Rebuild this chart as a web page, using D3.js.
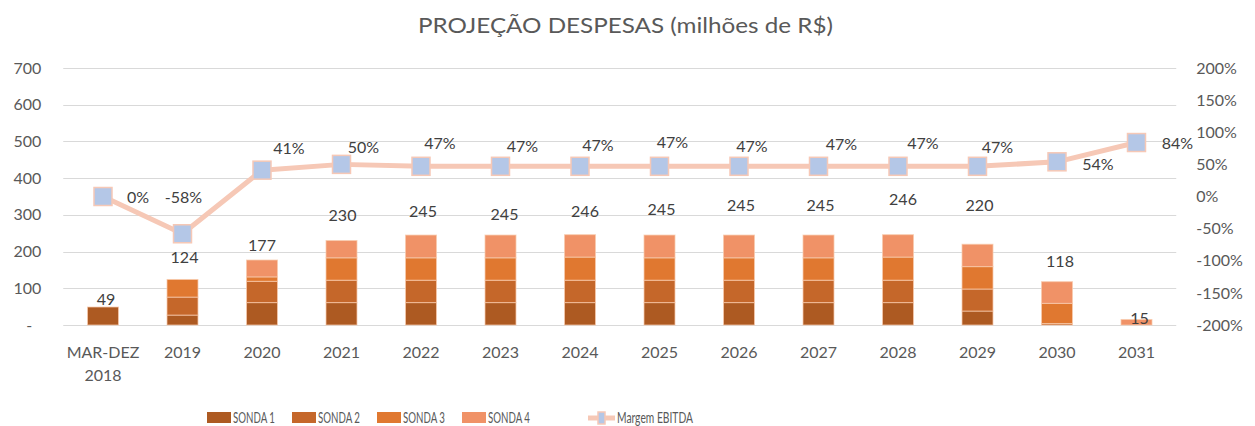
<!DOCTYPE html>
<html>
<head>
<meta charset="utf-8">
<script src="https://cdn.jsdelivr.net/npm/d3@7"></script>
<style>
  body { margin: 0; background: #fff; }
  svg { font-family: Lato, "Open Sans", sans-serif; display: block; }
</style>
</head>
<body>
<svg id="chart" width="1255" height="426"></svg>
<script>
// data
const categories = ['MAR-DEZ 2018', '2019', '2020', '2021', '2022', '2023', '2024',
                    '2025', '2026', '2027', '2028', '2029', '2030', '2031'];
const sonda1 = [49, 27, 61, 61, 61, 61, 61, 61, 61, 61, 61, 38, 0, 0];
const sonda2 = [0, 49, 58, 61, 61, 61, 61, 61, 61, 61, 61, 60, 4, 0];
const sonda3 = [0, 48, 12, 61, 61, 61, 63, 61, 61, 61, 63, 61, 55, 0];
const sonda4 = [0, 0, 46, 47, 62, 62, 61, 62, 62, 62, 61, 61, 59, 15];
const margem = [0, -0.58, 0.41, 0.50, 0.47, 0.47, 0.47, 0.47, 0.47, 0.47, 0.47, 0.47, 0.54, 0.84];
const leftTicks = [0, 100, 200, 300, 400, 500, 600, 700];
const rightTicks = [-2, -1.5, -1, -0.5, 0, 0.5, 1, 1.5, 2];
const seriesNames = ['SONDA 1', 'SONDA 2', 'SONDA 3', 'SONDA 4'];

// label placement (manual, like the original sheet)
const totalShift = [[3, -8], [2, -22], [0, -15], [1, -25], [2, -24], [4, -21], [5, -23],
                    [2, -26], [2, -30], [2, -30], [5, -35], [2, -39], [3, -20], [3, -1]];
const pctShift = [[35, 1], [1, -36], [27, -22], [22, -17], [19, -23], [22, -20], [18, -21],
                  [13, -24], [13, -20], [23, -22], [25, -23], [20, -19], [41, 3], [41, 1]];

const colors = ['#AD5A22', '#C5672A', '#E07830', '#F09267'];
const lineColor = '#F6C8B6';
const markerFill = '#B4C7E7';

const plotLeft = 63.25, plotRight = 1176.25, plotTop = 68, plotBottom = 325;

const svg = d3.select('#chart');

const x = d3.scaleBand()
    .domain(categories)
    .range([plotLeft, plotRight])
    .paddingInner(0.61)
    .paddingOuter(0.305);
const y = d3.scaleLinear().domain([0, 700]).range([plotBottom, plotTop]);
const y2 = d3.scaleLinear().domain([-2, 2]).range([plotBottom, plotTop]);

const pct = v => Math.round(v * 100) + '%';

// title
svg.append('text')
    .attr('x', 625.5)
    .attr('y', 33)
    .attr('text-anchor', 'middle')
    .attr('textLength', 415)
    .attr('lengthAdjust', 'spacingAndGlyphs')
    .style('font-size', '21px')
    .style('fill', '#595959')
    .text('PROJEÇÃO DESPESAS (milhões de R$)');

// gridlines
svg.append('g')
    .selectAll('line')
    .data(leftTicks)
    .join('line')
        .attr('x1', plotLeft)
        .attr('x2', plotRight)
        .attr('y1', d => Math.round(y(d)) + 0.5)
        .attr('y2', d => Math.round(y(d)) + 0.5)
        .style('stroke', '#D9D9D9')
        .style('stroke-width', 1);

// left axis
const gLeft = svg.append('g')
    .attr('transform', `translate(${plotLeft},0)`)
    .call(d3.axisLeft(y).tickValues(leftTicks).tickSize(0).tickPadding(22)
        .tickFormat(d => d === 0 ? '-' : d));
gLeft.select('.domain').remove();
gLeft.selectAll('text')
    .style('font-family', 'Lato, sans-serif')
    .style('font-size', '16px')
    .style('fill', '#595959');
gLeft.selectAll('.tick').filter(d => d === 0).select('text').attr('x', -31);

// right axis
const gRight = svg.append('g')
    .attr('transform', `translate(${plotRight},0)`)
    .call(d3.axisRight(y2).tickValues(rightTicks).tickSize(0).tickPadding(20).tickFormat(pct));
gRight.select('.domain').remove();
gRight.selectAll('text')
    .style('font-family', 'Lato, sans-serif')
    .style('font-size', '16px')
    .style('fill', '#595959');

// x labels
svg.append('g')
    .selectAll('text')
    .data(categories)
    .join('text')
        .attr('x', d => x(d) + x.bandwidth() / 2)
        .attr('y', 358)
        .attr('text-anchor', 'middle')
        .style('font-size', '16px')
        .style('fill', '#595959')
        .each(function(d) {
            const parts = d.split(' ');
            d3.select(this).selectAll('tspan')
                .data(parts)
                .join('tspan')
                    .attr('x', x(d) + x.bandwidth() / 2)
                    .attr('dy', (p, i) => i === 0 ? 0 : 23)
                    .text(p => p);
        });

// stacked bars
const rows = categories.map((c, i) => ({
    cat: c,
    'SONDA 1': sonda1[i],
    'SONDA 2': sonda2[i],
    'SONDA 3': sonda3[i],
    'SONDA 4': sonda4[i]
}));
const stacked = d3.stack().keys(seriesNames)(rows);

svg.append('g')
    .selectAll('g')
    .data(stacked)
    .join('g')
        .style('fill', (d, i) => colors[i])
    .selectAll('rect')
    .data(d => d.filter(s => s[1] - s[0] > 0))
    .join('rect')
        .attr('x', d => x(d.data.cat))
        .attr('width', x.bandwidth())
        .attr('y', d => y(d[1]))
        .attr('height', d => y(d[0]) - y(d[1]))
        .style('stroke', '#F8CBAD')
        .style('stroke-opacity', 0.75)
        .style('stroke-width', 1);

// totals
const totals = rows.map(r => seriesNames.reduce((a, k) => a + r[k], 0));
svg.append('g')
    .selectAll('text')
    .data(totals)
    .join('text')
        .attr('x', (d, i) => x(categories[i]) + x.bandwidth() / 2 + totalShift[i][0])
        .attr('y', (d, i) => y(d) + totalShift[i][1])
        .attr('dy', '0.35em')
        .attr('text-anchor', 'middle')
        .style('font-size', '16px')
        .style('fill', '#404040')
        .text(d => d);

// margem line
const line = d3.line()
    .x((d, i) => x(categories[i]) + x.bandwidth() / 2)
    .y(d => y2(d));

svg.append('path')
    .datum(margem)
    .attr('d', line)
    .style('fill', 'none')
    .style('stroke', lineColor)
    .style('stroke-width', 5)
    .style('stroke-linejoin', 'round');

const mSize = 18;
svg.append('g')
    .selectAll('rect')
    .data(margem)
    .join('rect')
        .attr('x', (d, i) => x(categories[i]) + x.bandwidth() / 2 - mSize / 2)
        .attr('y', d => y2(d) - mSize / 2)
        .attr('width', mSize)
        .attr('height', mSize)
        .style('fill', markerFill)
        .style('stroke', lineColor)
        .style('stroke-width', 1.5);

svg.append('g')
    .selectAll('text')
    .data(margem)
    .join('text')
        .attr('x', (d, i) => x(categories[i]) + x.bandwidth() / 2 + pctShift[i][0])
        .attr('y', (d, i) => y2(d) + pctShift[i][1])
        .attr('dy', '0.35em')
        .attr('text-anchor', 'middle')
        .style('font-size', '16px')
        .style('fill', '#404040')
        .text(pct);

// legend (squeezed text like the original export)
const legend = svg.append('g');
const legendX = [207, 292, 377, 462];
seriesNames.forEach((name, i) => {
    legend.append('rect')
        .attr('x', legendX[i])
        .attr('y', 412)
        .attr('width', 24)
        .attr('height', 11)
        .style('fill', colors[i]);
    legend.append('text')
        .attr('x', legendX[i] + 26)
        .attr('y', 422.5)
        .attr('textLength', 42)
        .attr('lengthAdjust', 'spacingAndGlyphs')
        .style('font-size', '16px')
        .style('fill', '#595959')
        .text(name);
});
legend.append('line')
    .attr('x1', 588).attr('x2', 615)
    .attr('y1', 418).attr('y2', 418)
    .style('stroke', lineColor)
    .style('stroke-width', 5);
legend.append('rect')
    .attr('x', 598).attr('y', 412)
    .attr('width', 7).attr('height', 12)
    .style('fill', markerFill)
    .style('stroke', lineColor)
    .style('stroke-width', 1.5);
legend.append('text')
    .attr('x', 617)
    .attr('y', 422.5)
    .attr('textLength', 76)
    .attr('lengthAdjust', 'spacingAndGlyphs')
    .style('font-size', '16px')
    .style('fill', '#595959')
    .text('Margem EBITDA');
</script>
</body>
</html>
